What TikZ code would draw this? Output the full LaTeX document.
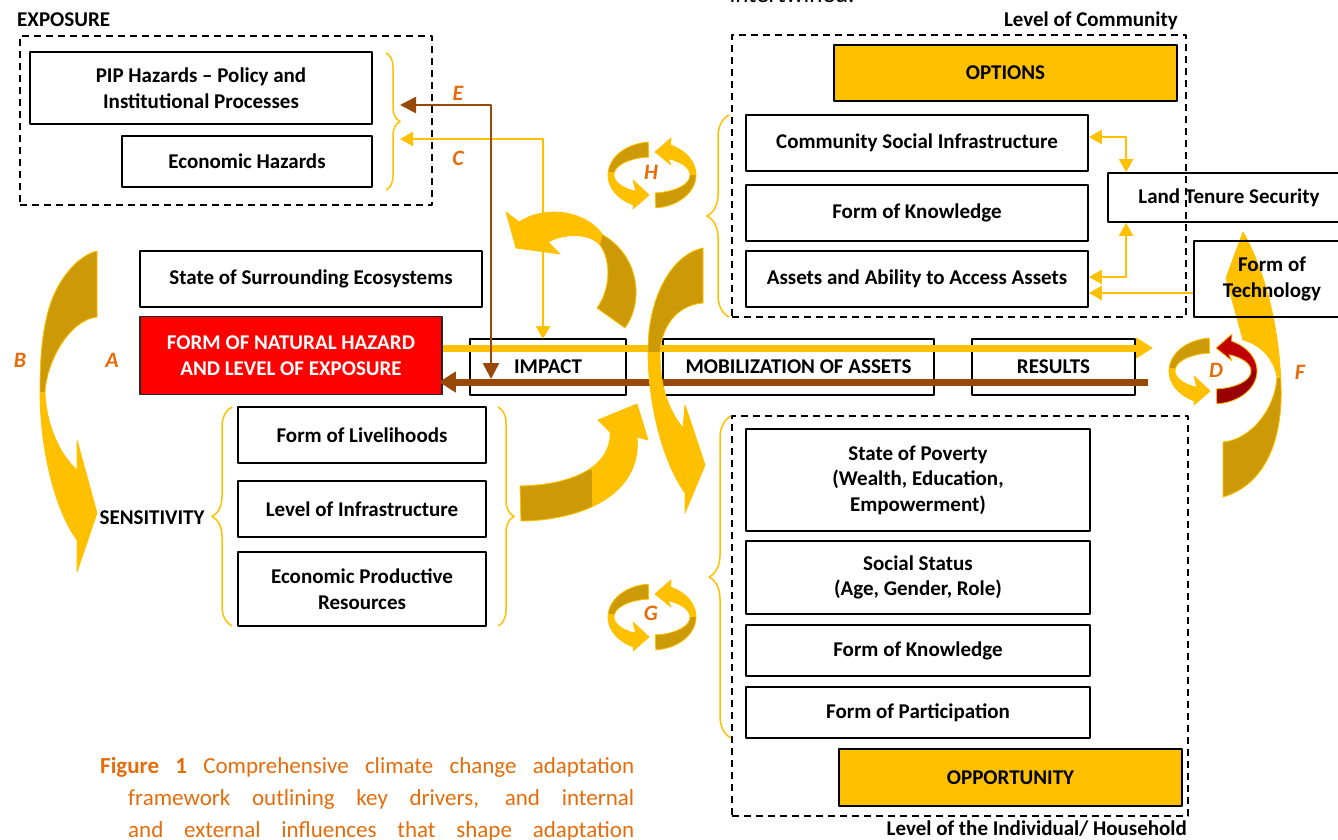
\documentclass[tikz,border=0pt]{standalone}
\usepackage{fontspec}
\setmainfont{Carlito}
\usetikzlibrary{arrows.meta,decorations.pathreplacing,calc}
\definecolor{gold}{HTML}{FFC000}
\definecolor{darkgold}{HTML}{CC9A06}
\definecolor{brownline}{HTML}{984807}
\definecolor{lblorange}{HTML}{E46C0A}
\definecolor{arrred}{HTML}{C00000}
\definecolor{arrdarkred}{HTML}{990000}
\newcommand{\boxfont}{\fontsize{21}{25.5}\selectfont\bfseries}
\newcommand{\capfont}{\fontsize{23}{23}\selectfont}
% curved arrow outlines
\newcommand{\shpB}{(97,251) .. controls (80,255) and (60,275) .. (50,305) .. controls (42,330) and (40,360) .. (40,390) .. controls (40,450) and (55,510) .. (77,540) -- (77,572) -- (97,513) -- (77,440) -- (77,470) .. controls (60,455) and (46,425) .. (45,392) .. controls (47,360) and (70,320) .. (97,317) -- cycle}
\newcommand{\shpT}{(506,212) -- (516,248) -- (560,254) -- (548,242) .. controls (565,233) and (590,233) .. (600,245) .. controls (612,262) and (610,290) .. (597,308) -- (625,328) .. controls (645,300) and (638,255) .. (603,235) .. controls (585,210) and (545,205) .. (519,222) -- cycle}
\newcommand{\shpM}{(703,248) .. controls (670,255) and (648,300) .. (648,350) .. controls (648,410) and (665,465) .. (685,493) -- (685,513) -- (705,465) -- (685,405) -- (683,428) .. controls (668,410) and (660,385) .. (660,355) .. controls (660,330) and (675,305) .. (703,303) -- cycle}
\newcommand{\shpL}{(520,486) .. controls (575,485) and (612,465) .. (610,432) -- (598,420) -- (637,404) -- (648,440) -- (637,437) .. controls (642,490) and (590,520) .. (521,521) -- cycle}
\newcommand{\shpF}{(1243,232) -- (1226,278) -- (1243,340) .. controls (1262,345) and (1274,360) .. (1277,377) .. controls (1275,410) and (1250,440) .. (1223,442) -- (1223,497) .. controls (1265,485) and (1283,440) .. (1281,385) .. controls (1279,320) and (1262,265) .. (1243,232) -- cycle}
\newcommand{\curvedarrow}[2]{%
  \fill[gold] #1;
  \begin{scope}\clip #1; \fill[darkgold] #2;\end{scope}
  \draw[gold, line width=0.8pt] #1;
}
% circular arrow pieces
\newcommand{\ringL}[2]{({#1+38*cos(265)},{#2+18*sin(265)}) -- ({#1+44*cos(265)},{#2+33*sin(265)}) -- plot[domain=265:115,samples=30] ({#1+44*cos(\x)},{#2+33*sin(\x)}) -- ({#1-19},{#2+34}) -- ({#1-3},{#2+20}) -- ({#1-19},{#2+5}) -- ({#1+38*cos(115)},{#2+18*sin(115)}) -- plot[domain=115:265,samples=30] ({#1+38*cos(\x)},{#2+18*sin(\x)}) -- cycle}
\newcommand{\ringR}[2]{({#1+38*cos(85)},{#2+18*sin(85)}) -- ({#1+44*cos(85)},{#2+33*sin(85)}) -- plot[domain=85:-65,samples=30] ({#1+44*cos(\x)},{#2+33*sin(\x)}) -- ({#1+19},{#2-37}) -- ({#1+3},{#2-23}) -- ({#1+19},{#2-10}) -- ({#1+38*cos(-65)},{#2+18*sin(-65)}) -- plot[domain=-65:85,samples=30] ({#1+38*cos(\x)},{#2+18*sin(\x)}) -- cycle}
\newcommand{\ringpair}[6]{%
  \fill[#3] \ringL{#1}{#2};
  \begin{scope}\clip \ringL{#1}{#2}; \fill[#4] ({#1-50},{#2-45}) rectangle ({#1+6},{#2-3});\end{scope}
  \draw[gold,line width=0.8pt] \ringL{#1}{#2};
  \fill[#5] \ringR{#1}{#2};
  \begin{scope}\clip \ringR{#1}{#2}; \fill[#6] ({#1-6},{#2}) rectangle ({#1+50},{#2+45});\end{scope}
  \draw[gold,line width=0.8pt] \ringR{#1}{#2};
}
\begin{document}
\begin{tikzpicture}[x=1pt,y=-1pt,line join=round,
  tbox/.style={draw=black, line width=1.8pt, fill=white, font=\boxfont, align=center, inner sep=2pt, text=black},
  dbox/.style={draw=black, line width=1.8pt, dash pattern=on 7pt off 5pt, inner sep=0pt, fill=none},
  lbl/.style={font=\fontsize{22}{22}\selectfont\bfseries\itshape, text=lblorange, inner sep=0pt},
  plain/.style={font=\boxfont, inner sep=0pt, text=black},
  thickY/.style={draw=gold, line width=7pt, -{Triangle[length=17pt,width=20pt]}},
  thickB/.style={draw=brownline, line width=7pt, -{Triangle[length=17pt,width=20pt]}},
  conY/.style={draw=gold, line width=2.2pt, {Triangle[length=13pt,width=14pt]}-{Triangle[length=13pt,width=14pt]}},
  conYone/.style={draw=gold, line width=2.2pt, -{Triangle[length=13pt,width=14pt]}},
  conB/.style={draw=brownline, line width=2.6pt, {Triangle[length=16pt,width=16pt]}-{Triangle[length=16pt,width=16pt]}},
  bracey/.style={draw=gold, line width=1.5pt, decorate}]
\useasboundingbox (0,0) rectangle (1338,840);

% curved arrows behind boxes
\curvedarrow{\shpB}{(30,240) rectangle (100,392)}
\curvedarrow{\shpT}{(600,245) -- (603,233) -- (660,233) -- (660,340) -- (570,340) -- (570,262) -- cycle}
\curvedarrow{\shpL}{(505,470) rectangle (592,530)}
\curvedarrow{\shpF}{(1200,378) rectangle (1300,510)}

% exposure
\node[tbox, minimum width=342pt, minimum height=72pt] (pip) at (201,88) {PIP Hazards – Policy and\\Institutional Processes};
\node[tbox, minimum width=250pt, minimum height=51pt] (econ) at (247,161.5) {Economic Hazards};
% left column
\node[tbox, minimum width=342pt, minimum height=56pt] (ecosys) at (311,279) {State of Surrounding Ecosystems};
\node[tbox, fill=red, text=white, draw=black!85, minimum width=302pt, minimum height=78pt] (hazard) at (291,355.5) {FORM OF NATURAL HAZARD\\AND LEVEL OF EXPOSURE};
\node[tbox, minimum width=248pt, minimum height=56pt] (liveli) at (362,435) {Form of Livelihoods};
\node[tbox, minimum width=248pt, minimum height=56pt] (infra) at (362,509) {Level of Infrastructure};
\node[tbox, minimum width=248pt, minimum height=74pt] (prodres) at (362,589) {Economic Productive\\Resources};
% chain
\node[tbox, minimum width=156pt, minimum height=56pt] (impact) at (548,367) {IMPACT};
\node[tbox, minimum width=271pt, minimum height=56pt] (mobil) at (798.5,367) {MOBILIZATION OF ASSETS};
\node[tbox, minimum width=163pt, minimum height=56pt] (results) at (1053.5,367) {RESULTS};
% community
\node[tbox, fill=gold, minimum width=343pt, minimum height=56pt] (options) at (1005.5,73) {OPTIONS};
\node[tbox, minimum width=342pt, minimum height=56pt] (csi) at (917,143) {Community Social Infrastructure};
\node[tbox, minimum width=342pt, minimum height=56pt] (know1) at (917,213) {Form of Knowledge};
\node[tbox, minimum width=342pt, minimum height=56pt] (assets) at (917,279) {Assets and Ability to Access Assets};
\node[tbox, minimum width=232pt, minimum height=49pt] (land) at (1224,197.5) {\hspace*{10pt}Land Tenure Security};
\node[tbox, fill=none, minimum width=146pt, minimum height=76pt] (tech) at (1267,279) {\hspace*{10pt}Form of\\\hspace*{10pt}Technology};
% individual
\node[tbox, minimum width=344pt, minimum height=102pt] (poverty) at (918,480) {State of Poverty\\(Wealth, Education,\\Empowerment)};
\node[tbox, minimum width=344pt, minimum height=73pt] (social) at (918,577.5) {Social Status\\(Age, Gender, Role)};
\node[tbox, minimum width=344pt, minimum height=51pt] (know2) at (918,650.5) {Form of Knowledge};
\node[tbox, minimum width=344pt, minimum height=51pt] (partic) at (918,712.5) {Form of Participation};
\node[tbox, fill=gold, minimum width=343pt, minimum height=57pt] (oppo) at (1010.5,777.5) {OPPORTUNITY};

% dashed frames
\node[dbox, minimum width=412pt, minimum height=169pt] (expbox) at (226,120.5) {};
\node[dbox, minimum width=454pt, minimum height=282pt] (combox) at (959,176) {};
\node[dbox, minimum width=456pt, minimum height=400pt] (indbox) at (960,616) {};

% main flow lines
\coordinate (yend) at (1153,348);
\coordinate (bstart) at (1148,382);
\draw[thickY] (hazard.east |- yend) -- (yend);
\draw[thickB, shorten >=-4pt] (bstart) -- (hazard.east |- bstart);

% E and C connectors
\coordinate (eL) at (400,105);
\coordinate (eB) at (491,379);
\coordinate (cL) at (400,139);
\coordinate (cB) at (543,339);
\draw[conY] (cL) -| (cB);
\draw[conB] (eL) -| (eB);

% community connectors
\draw[conY] ($(csi.east)+(0,-6)$) -| ($(land.north west)+(19,0)$);
\draw[conY] ($(land.south west)+(19,0)$) |- ($(assets.east)+(0,-2)$);
\draw[conYone] ($(tech.west)+(0,14)$) -- ($(assets.east)+(0,14)$);

% middle curved arrow on top of lines
\curvedarrow{\shpM}{(640,240) rectangle (710,352)}

% circular arrows
\ringpair{652}{175}{gold}{darkgold}{gold}{darkgold}
\ringpair{652}{617}{gold}{darkgold}{gold}{darkgold}
\ringpair{1213}{371}{gold}{darkgold}{arrred}{arrdarkred}

% braces
\draw[bracey, decoration={brace, amplitude=14pt}] (386,53) -- (386,190);
\draw[bracey, decoration={brace, amplitude=20pt}] (232,626) -- (232,407);
\draw[bracey, decoration={brace, amplitude=16pt}] (498,407) -- (498,626);
\draw[bracey, decoration={brace, amplitude=22pt}] (729,317) -- (729,115);
\draw[bracey, decoration={brace, amplitude=22pt}] (731,738) -- (731,416);

% plain labels
\node[plain, anchor=west] (explbl) at (17,20) {EXPOSURE};
\node[plain, anchor=east] (comlbl) at (1178,21) {Level of Community};
\node[plain, anchor=east] (indlbl) at (1187,829) {Level of the Individual/ Household};
\node[plain] (senslbl) at (152,518) {SENSITIVITY};
\node[anchor=base, inner sep=0pt, font=\fontsize{25}{25}\selectfont] (topword) at (792,3) {intertwined.};

% letter labels
\node[lbl] (lE) at (458,93) {E};
\node[lbl] (lC) at (458,158) {C};
\node[lbl] (lH) at (651,172) {H};
\node[lbl] (lB) at (20,360) {B};
\node[lbl] (lA) at (112,360) {A};
\node[lbl] (lD) at (1216,370) {D};
\node[lbl] (lF) at (1300,372) {F};
\node[lbl] (lG) at (651,613) {G};

% caption
\node[anchor=base west, inner sep=0pt, text=lblorange, font=\capfont] (cap1) at (100,773) {\makebox[534pt][s]{\textbf{Figure 1} Comprehensive climate change adaptation}};
\node[anchor=base west, inner sep=0pt, text=lblorange, font=\capfont] (cap2) at (128,805) {\makebox[506pt][s]{framework outlining key drivers, and internal}};
\node[anchor=base west, inner sep=0pt, text=lblorange, font=\capfont] (cap3) at (128,837) {\makebox[506pt][s]{and external influences that shape adaptation}};
\end{tikzpicture}
\end{document}
